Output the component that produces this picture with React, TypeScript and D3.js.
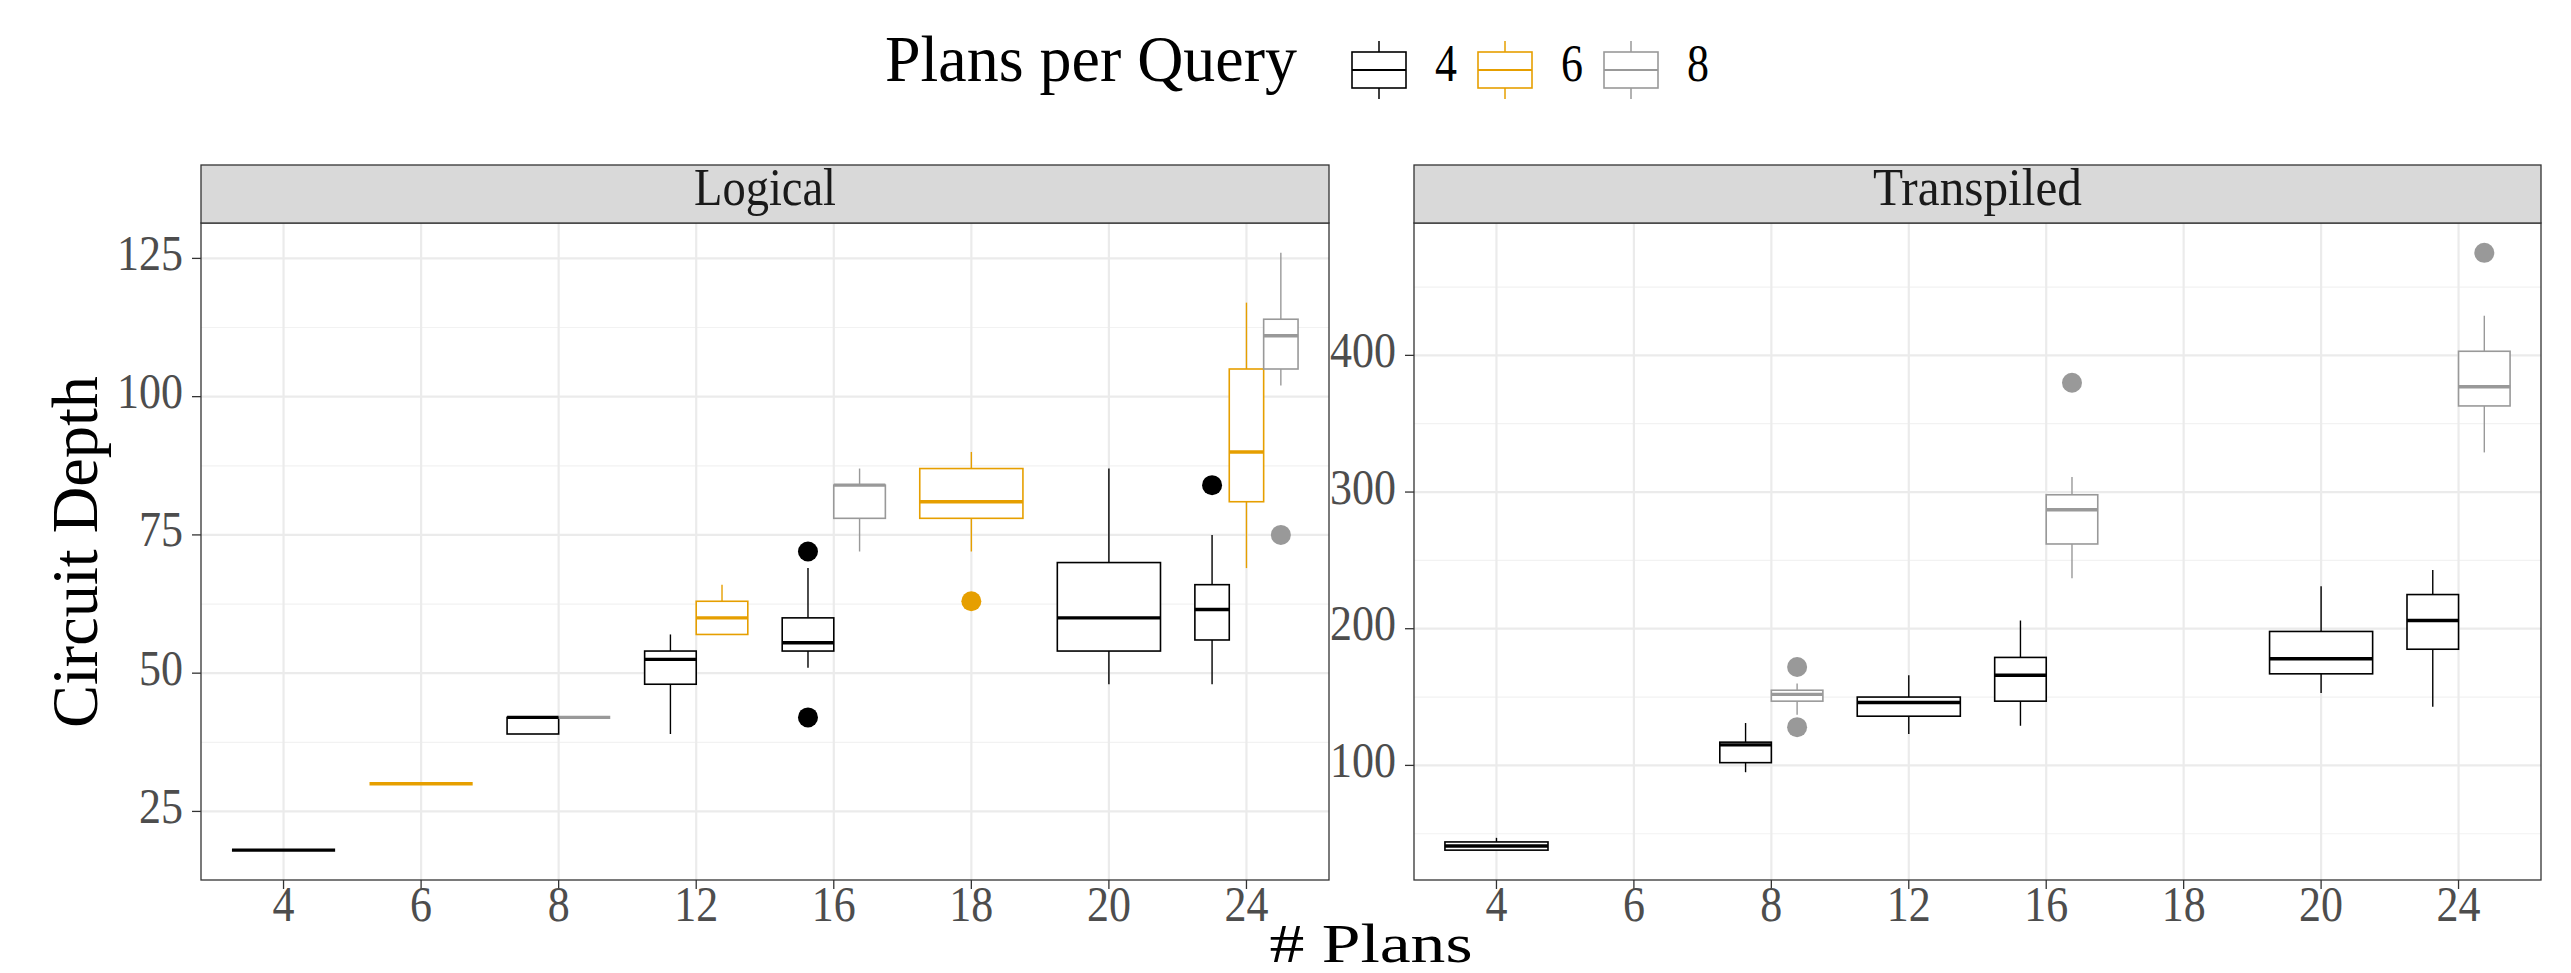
import React from "react";
import * as d3 from "d3";

// #plans on the x axis (discrete), plans-per-query groups
const categories = ["4", "6", "8", "12", "16", "18", "20", "24"];
const groupKeys = ["4", "6", "8"];
const groupColors = ["#000000", "#E69F00", "#999999"];

// [plans, group, min, q1, median, q3, max]
const logicalStats: [string, string, number, number, number, number, number][] = [
  ["4", "4", 18, 18, 18, 18, 18],
  ["6", "6", 30, 30, 30, 30, 30],
  ["8", "4", 39, 39, 42, 42, 42],
  ["8", "8", 42, 42, 42, 42, 42],
  ["12", "4", 39, 48, 52.5, 54, 57],
  ["12", "6", 57, 57, 60, 63, 66],
  ["16", "4", 51, 54, 55.5, 60, 69],
  ["16", "8", 72, 78, 84, 84, 87],
  ["18", "6", 72, 78, 81, 87, 90],
  ["20", "4", 48, 54, 60, 70, 87],
  ["24", "4", 48, 56, 61.5, 66, 75],
  ["24", "6", 69, 81, 90, 105, 117],
  ["24", "8", 102, 105, 111, 114, 126],
];
const logicalOutliers: [string, string, number][] = [
  ["16", "4", 72],
  ["16", "4", 42],
  ["18", "6", 63],
  ["24", "4", 84],
  ["24", "8", 75],
];

const transpiledStats: [string, string, number, number, number, number, number][] = [
  ["4", "4", 38, 38, 41, 44, 47],
  ["8", "4", 95, 102, 115, 117, 131],
  ["8", "8", 137, 147, 152, 155, 160],
  ["12", "4", 123, 136, 146, 150, 166],
  ["16", "4", 129, 147, 166, 179, 206],
  ["16", "8", 237, 262, 287, 298, 311],
  ["20", "4", 153, 167, 178, 198, 231],
  ["24", "4", 143, 185, 206, 225, 243],
  ["24", "8", 329, 363, 377, 403, 429],
];
const transpiledOutliers: [string, string, number][] = [
  ["8", "8", 172],
  ["8", "8", 128],
  ["16", "8", 380],
  ["24", "8", 475],
];

const logicalTicks = [25, 50, 75, 100, 125];
const logicalMinor = [37.5, 62.5, 87.5, 112.5];
const transpiledTicks = [100, 200, 300, 400];
const transpiledMinor = [50, 150, 250, 350, 450];

const W = 2571;
const H = 973;
const FONT = "'Liberation Serif', 'Times New Roman', serif";
const panelTop = 223;
const panelBottom = 880;
const stripTop = 165;

function Panel({ title, left, right, stats, outliers, ticks, minor }: any) {
  const x = d3.scalePoint<string>().domain(categories).range([left, right]).padding(0.6);
  const step = x.step();
  const vals = stats.flatMap((s: any) => [s[2], s[6]]).concat(outliers.map((o: any) => o[2]));
  const [lo, hi] = d3.extent(vals) as [number, number];
  const pad = (hi - lo) * 0.05;
  const y = d3.scaleLinear().domain([lo - pad, hi + pad]).range([panelBottom, panelTop]);

  // dodge: boxes present in each category share 0.75 of a step
  const boxPos = (cat: string, g: string) => {
    const present = stats.filter((s: any) => s[0] === cat).map((s: any) => s[1]);
    const n = present.length;
    const i = present.indexOf(g);
    const bw = (0.75 * step) / n;
    const x0 = (x(cat) as number) - 0.375 * step + i * bw;
    return { x0, bw, cx: x0 + bw / 2 };
  };

  return (
    <g>
      <rect x={left} y={panelTop} width={right - left} height={panelBottom - panelTop} fill="#ffffff" />
      {minor.map((v: number) => (
        <line key={"mn" + v} x1={left} x2={right} y1={y(v)} y2={y(v)} stroke="#f2f2f2" strokeWidth={1.2} />
      ))}
      {ticks.map((v: number) => (
        <line key={"mj" + v} x1={left} x2={right} y1={y(v)} y2={y(v)} stroke="#ebebeb" strokeWidth={2.2} />
      ))}
      {categories.map((c) => (
        <line key={"gx" + c} x1={x(c)} x2={x(c)} y1={panelTop} y2={panelBottom} stroke="#ebebeb" strokeWidth={2.2} />
      ))}
      {stats.map((s: any) => {
        const [cat, g, mn, q1, med, q3, mx] = s;
        const { x0, bw, cx } = boxPos(cat, g);
        const col = groupColors[groupKeys.indexOf(g)];
        return (
          <g key={"b" + cat + g}>
            <line x1={cx} x2={cx} y1={y(q3)} y2={y(mx)} stroke={col} strokeWidth={1.4} />
            <line x1={cx} x2={cx} y1={y(q1)} y2={y(mn)} stroke={col} strokeWidth={1.4} />
            <rect x={x0} y={y(q3)} width={bw} height={Math.max(0, y(q1) - y(q3))} fill="#ffffff" stroke={col} strokeWidth={1.6} />
            <line x1={x0} x2={x0 + bw} y1={y(med)} y2={y(med)} stroke={col} strokeWidth={3.4} />
          </g>
        );
      })}
      {outliers.map((o: any, i: number) => {
        const { cx } = boxPos(o[0], o[1]);
        return <circle key={"o" + i} cx={cx} cy={y(o[2])} r={10} fill={groupColors[groupKeys.indexOf(o[1])]} />;
      })}
      <rect x={left} y={panelTop} width={right - left} height={panelBottom - panelTop} fill="none" stroke="#333333" strokeWidth={1.3} />
      {/* strip */}
      <rect x={left} y={stripTop} width={right - left} height={panelTop - stripTop} fill="#d9d9d9" stroke="#333333" strokeWidth={1.3} />
      <text
        x={(left + right) / 2}
        y={205}
        textAnchor="middle"
        fontFamily={FONT}
        fontSize={52}
        fill="#1a1a1a"
        textLength={title === "Logical" ? 142 : 209}
        lengthAdjust="spacingAndGlyphs"
      >
        {title}
      </text>
      {/* y axis */}
      {ticks.map((v: number) => (
        <g key={"yt" + v}>
          <line x1={left - 9} x2={left} y1={y(v)} y2={y(v)} stroke="#333333" strokeWidth={1.3} />
          <text
            x={left - 18}
            y={y(v) + 11.5}
            textAnchor="end"
            fontFamily={FONT}
            fontSize={51}
            fill="#4d4d4d"
            textLength={String(v).length * 22}
            lengthAdjust="spacingAndGlyphs"
          >
            {v}
          </text>
        </g>
      ))}
      {/* x axis */}
      {categories.map((c) => (
        <g key={"xt" + c}>
          <line x1={x(c)} x2={x(c)} y1={panelBottom} y2={panelBottom + 9} stroke="#333333" strokeWidth={1.3} />
          <text
            x={x(c)}
            y={921}
            textAnchor="middle"
            fontFamily={FONT}
            fontSize={51}
            fill="#4d4d4d"
            textLength={c.length * 22}
            lengthAdjust="spacingAndGlyphs"
          >
            {c}
          </text>
        </g>
      ))}
    </g>
  );
}

function LegendKey({ x0, color }: { x0: number; color: string }) {
  const w = 54;
  const cx = x0 + w / 2;
  return (
    <g>
      <line x1={cx} x2={cx} y1={41} y2={52} stroke={color} strokeWidth={1.5} />
      <line x1={cx} x2={cx} y1={88} y2={99} stroke={color} strokeWidth={1.5} />
      <rect x={x0} y={52} width={w} height={36} fill="#ffffff" stroke={color} strokeWidth={1.6} />
      <line x1={x0} x2={x0 + w} y1={70} y2={70} stroke={color} strokeWidth={2} />
    </g>
  );
}

export default function App() {
  const keyX = [1352, 1478, 1604];
  const labelX = [1435, 1561, 1687];
  return (
    <svg
      width={W}
      height={H}
      viewBox={`0 0 ${W} ${H}`}
      style={{ position: "absolute", left: 0, top: 0, display: "block", background: "#ffffff" }}
    >
      <rect x={0} y={0} width={W} height={H} fill="#ffffff" />
      <Panel
        title="Logical"
        left={201}
        right={1329}
        stats={logicalStats}
        outliers={logicalOutliers}
        ticks={logicalTicks}
        minor={logicalMinor}
      />
      <Panel
        title="Transpiled"
        left={1414}
        right={2541}
        stats={transpiledStats}
        outliers={transpiledOutliers}
        ticks={transpiledTicks}
        minor={transpiledMinor}
      />
      {/* legend */}
      <text x={885} y={81} fontFamily={FONT} fontSize={65} fill="#000000" textLength={412} lengthAdjust="spacingAndGlyphs">
        Plans per Query
      </text>
      {groupKeys.map((g, i) => (
        <g key={"lg" + g}>
          <LegendKey x0={keyX[i]} color={groupColors[i]} />
          <text x={labelX[i]} y={81} fontFamily={FONT} fontSize={52} fill="#000000" textLength={22} lengthAdjust="spacingAndGlyphs">
            {g}
          </text>
        </g>
      ))}
      {/* axis titles */}
      <text
        transform={`translate(97, 552) rotate(-90)`}
        textAnchor="middle"
        fontFamily={FONT}
        fontSize={65}
        fill="#000000"
        textLength={352}
        lengthAdjust="spacingAndGlyphs"
      >
        Circuit Depth
      </text>
      <text x={1371} y={962} textAnchor="middle" fontFamily={FONT} fontSize={54} fill="#000000" textLength={203} lengthAdjust="spacingAndGlyphs">
        # Plans
      </text>
    </svg>
  );
}
